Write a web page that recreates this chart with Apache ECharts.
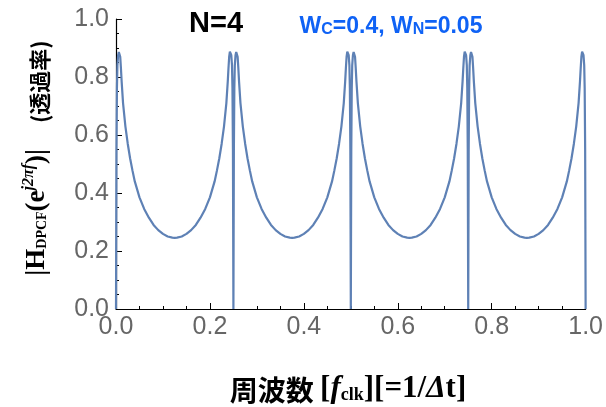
<!DOCTYPE html>
<html>
<head>
<meta charset="utf-8">
<script src="https://cdn.jsdelivr.net/npm/echarts@6/dist/echarts.min.js"></script>
<style>html,body{margin:0;padding:0;background:#fff}#c{width:606px;height:407px}</style>
</head>
<body>
<div id="c"></div>
<script>
// frequency samples [f_clk]
const freq = [
  0,0.001,0.002,0.003,0.0045,0.006,0.0075,0.009,0.0105,0.012,0.015,0.02,0.025,0.03,0.035,0.04,0.05,0.06,0.07,0.08,0.09,0.1,0.11,0.12,0.125,0.13,0.14,0.15,0.16,0.17,0.18,0.19,0.2,0.21,0.215,0.22,0.225,0.23,0.235,0.238,0.2395,0.241,0.2425,0.244,0.2455,0.247,0.248,0.249,
  0.25,0.251,0.252,0.253,0.2545,0.256,0.2575,0.259,0.2605,0.262,0.265,0.27,0.275,0.28,0.285,0.29,0.3,0.31,0.32,0.33,0.34,0.35,0.36,0.37,0.375,0.38,0.39,0.4,0.41,0.42,0.43,0.44,0.45,0.46,0.465,0.47,0.475,0.48,0.485,0.488,0.4895,0.491,0.4925,0.494,0.4955,0.497,0.498,0.499,
  0.5,0.501,0.502,0.503,0.5045,0.506,0.5075,0.509,0.5105,0.512,0.515,0.52,0.525,0.53,0.535,0.54,0.55,0.56,0.57,0.58,0.59,0.6,0.61,0.62,0.625,0.63,0.64,0.65,0.66,0.67,0.68,0.69,0.7,0.71,0.715,0.72,0.725,0.73,0.735,0.738,0.7395,0.741,0.7425,0.744,0.7455,0.747,0.748,0.749,
  0.75,0.751,0.752,0.753,0.7545,0.756,0.7575,0.759,0.7605,0.762,0.765,0.77,0.775,0.78,0.785,0.79,0.8,0.81,0.82,0.83,0.84,0.85,0.86,0.87,0.875,0.88,0.89,0.9,0.91,0.92,0.93,0.94,0.95,0.96,0.965,0.97,0.975,0.98,0.985,0.988,0.9895,0.991,0.9925,0.994,0.9955,0.997,0.998,0.999,
  1.0
];
// |H_DPCF| (transmittance)
const mag = [
  0,0.55,0.76,0.84,0.875,0.886,0.887,0.87,0.83,0.785,0.71,0.63,0.57,0.52,0.478,0.44,0.385,0.345,0.315,0.29,0.272,0.259,0.25,0.246,0.245,0.246,0.25,0.259,0.272,0.29,0.315,0.345,0.385,0.44,0.478,0.52,0.57,0.63,0.71,0.785,0.83,0.87,0.887,0.886,0.875,0.84,0.76,0.55,
  0,0.55,0.76,0.84,0.875,0.886,0.887,0.87,0.83,0.785,0.71,0.63,0.57,0.52,0.478,0.44,0.385,0.345,0.315,0.29,0.272,0.259,0.25,0.246,0.245,0.246,0.25,0.259,0.272,0.29,0.315,0.345,0.385,0.44,0.478,0.52,0.57,0.63,0.71,0.785,0.83,0.87,0.887,0.886,0.875,0.84,0.76,0.55,
  0,0.55,0.76,0.84,0.875,0.886,0.887,0.87,0.83,0.785,0.71,0.63,0.57,0.52,0.478,0.44,0.385,0.345,0.315,0.29,0.272,0.259,0.25,0.246,0.245,0.246,0.25,0.259,0.272,0.29,0.315,0.345,0.385,0.44,0.478,0.52,0.57,0.63,0.71,0.785,0.83,0.87,0.887,0.886,0.875,0.84,0.76,0.55,
  0,0.55,0.76,0.84,0.875,0.886,0.887,0.87,0.83,0.785,0.71,0.63,0.57,0.52,0.478,0.44,0.385,0.345,0.315,0.29,0.272,0.259,0.25,0.246,0.245,0.246,0.25,0.259,0.272,0.29,0.315,0.345,0.385,0.44,0.478,0.52,0.57,0.63,0.71,0.785,0.83,0.87,0.887,0.886,0.875,0.84,0.76,0.55,
  0
];
const xTicks = [0, 0.2, 0.4, 0.6, 0.8, 1.0];
const yTicks = [0, 0.2, 0.4, 0.6, 0.8, 1.0];

const data = freq.map((f, i) => [f, mag[i]]);
const chart = echarts.init(document.getElementById('c'), null, {renderer: 'canvas'});
const labelFont = {color: '#666', fontSize: 25, fontFamily: 'Liberation Sans, Arial, sans-serif'};
const serif = 'Liberation Serif, Times New Roman, serif';
chart.setOption({
  animation: false,
  backgroundColor: '#fff',
  grid: {left: 116, right: 20, top: 19, bottom: 98},
  xAxis: {
    type: 'value', min: 0, max: 1, interval: 0.2,
    axisLine: {show: true, lineStyle: {color: '#000', width: 1.2}},
    axisTick: {show: true, inside: true, length: 6, lineStyle: {color: '#000'}},
    minorTick: {show: true, splitNumber: 4, length: 3, lineStyle: {color: '#000'}},
    splitLine: {show: false},
    axisLabel: Object.assign({margin: 6, formatter: v => xTicks.includes(+v.toFixed(2)) ? v.toFixed(1) : ''}, labelFont)
  },
  yAxis: {
    type: 'value', min: 0, max: 1, interval: 0.2,
    axisLine: {show: true, lineStyle: {color: '#000', width: 1.2}},
    axisTick: {show: true, inside: true, length: 6, lineStyle: {color: '#000'}},
    minorTick: {show: true, splitNumber: 4, length: 3, lineStyle: {color: '#000'}},
    splitLine: {show: false},
    axisLabel: Object.assign({margin: 7, formatter: v => yTicks.includes(+v.toFixed(2)) ? v.toFixed(1) : ''}, labelFont)
  },
  series: [{
    type: 'line', data: data, showSymbol: false, smooth: false, clip: true,
    lineStyle: {color: '#5e81b5', width: 2.2}
  }],
  graphic: [
    {type: 'text', x: 216, y: 24, style: {text: 'N=4', fill: '#000', font: 'bold 29px Liberation Sans, Arial, sans-serif', align: 'center', verticalAlign: 'middle'}},
    {type: 'text', x: 391, y: 26, style: {
      text: '{w|W}{s|C}{w|=0.4, W}{s|N}{w|=0.05}', align: 'center', verticalAlign: 'middle',
      rich: {
        w: {fill: '#0f62f5', fontSize: 23, fontWeight: 'bold', fontFamily: 'Liberation Sans, Arial, sans-serif', lineHeight: 24, verticalAlign: 'bottom'},
        s: {fill: '#0f62f5', fontSize: 16, fontWeight: 'bold', fontFamily: 'Liberation Sans, Arial, sans-serif', lineHeight: 24, verticalAlign: 'bottom'}
      }
    }},
    {type: 'text', x: 36, y: 158, rotation: Math.PI / 2, style: {
      text: '{h||H}{sub|DPCF}{h|(e}{sup|j2πf}{h|)|}{sp| }{c|(透過率)}', align: 'center', verticalAlign: 'middle',
      rich: {
        h: {fill: '#000', fontSize: 27, fontWeight: 'bold', fontFamily: serif, lineHeight: 30, verticalAlign: 'bottom'},
        sub: {fill: '#000', fontSize: 14, fontWeight: 'bold', fontFamily: serif, lineHeight: 30, verticalAlign: 'bottom', padding: [0,0,2,0]},
        sup: {fill: '#000', fontSize: 16, fontWeight: 'bold', fontStyle: 'italic', fontFamily: serif, lineHeight: 30, verticalAlign: 'top'},
        sp: {fontSize: 24, width: 26},
        c: {fill: '#000', fontSize: 22, fontWeight: 'bold', fontFamily: 'Noto Sans CJK JP, sans-serif', lineHeight: 30, verticalAlign: 'bottom'}
      }
    }},
    {type: 'text', x: 348, y: 388, style: {
      text: '{c|周波数 }{b|[}{i|f}{s|clk}{b|][=1/}{i|Δ}{b|t]}', align: 'center', verticalAlign: 'middle',
      rich: {
        c: {fill: '#000', fontSize: 28, fontWeight: 'bold', fontFamily: 'Noto Sans CJK JP, sans-serif', lineHeight: 32, verticalAlign: 'bottom'},
        b: {fill: '#000', fontSize: 31, fontWeight: 'bold', fontFamily: serif, lineHeight: 32, verticalAlign: 'bottom'},
        i: {fill: '#000', fontSize: 31, fontWeight: 'bold', fontStyle: 'italic', fontFamily: serif, lineHeight: 32, verticalAlign: 'bottom'},
        s: {fill: '#000', fontSize: 18, fontWeight: 'bold', fontFamily: serif, lineHeight: 32, verticalAlign: 'bottom'}
      }
    }}
  ]
});
</script>
</body>
</html>
